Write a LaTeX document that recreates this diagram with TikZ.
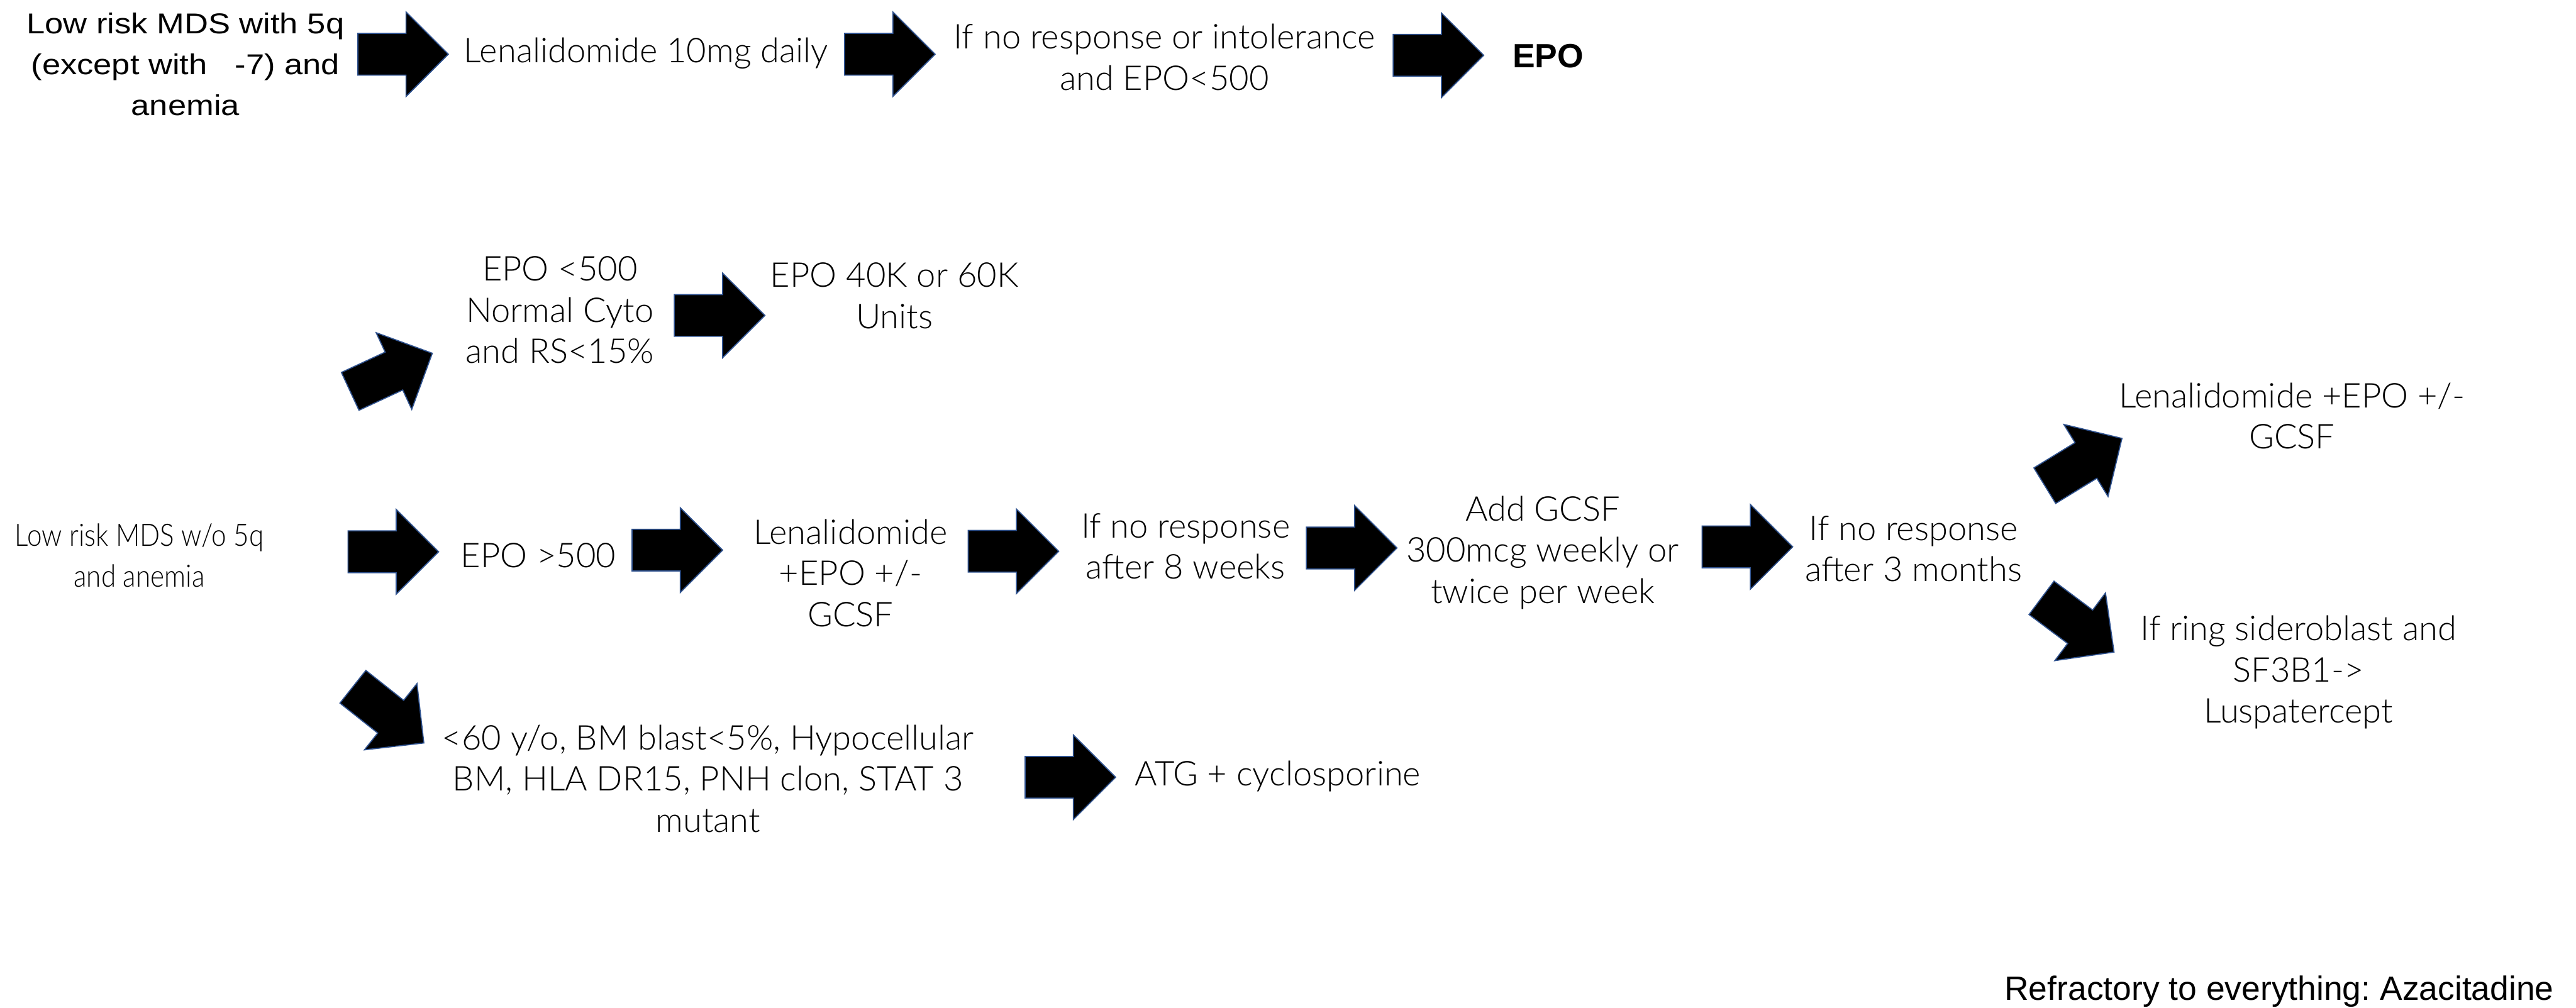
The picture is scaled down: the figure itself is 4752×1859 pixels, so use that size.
\documentclass[tikz,border=0pt]{standalone}
\usepackage{fontspec}
\newfontfamily\lightfam{Lato Light}
\newfontfamily\lightnarrow{Lato Light}[FakeStretch=0.86]
\newfontfamily\arialfam{Liberation Sans}
\newfontfamily\arialwide{Liberation Sans}[FakeStretch=1.15]
\newcommand\lightfs{\lightfam\fontsize{12.6pt}{15.2pt}\selectfont}
\newcommand\lightsmallfs{\lightnarrow\fontsize{11.4pt}{15.2pt}\selectfont}
\newcommand\widefs{\arialwide\fontsize{10.6pt}{15.1pt}\selectfont}
\newcommand\arialfs{\arialfam\fontsize{12.4pt}{15.2pt}\selectfont}
\definecolor{arrowedge}{HTML}{2F528F}
\frenchspacing
\tikzset{
  txt/.style={font=\lightfs, align=center, inner sep=0pt, anchor=base},
  arrowbody/.style={fill=black, draw=arrowedge, line width=0.4pt, line join=miter},
  barrow/.pic={\filldraw[arrowbody] (0,-38.5) -- (89,-38.5) -- (89,-78) -- (167,0) -- (89,78) -- (89,38.5) -- (0,38.5) -- cycle;}
}
\begin{document}
\begin{tikzpicture}[x=0.2pt, y=-0.2pt]
\fill[white] (0,0) rectangle (4752,1859);
\useasboundingbox (0,0) rectangle (4752,1859);

% top row (y = baseline of last line)
\node[txt, font=\widefs] (t1) at (342,213) {Low risk MDS with 5q\\(except with\ \ \ -7) and\\anemia};
\node[txt] (t2) at (1192,115) {Lenalidomide 10mg daily};
\node[txt] (t3) at (2148,166) {If no response or intolerance\\and EPO<500};
\node[txt, font=\arialfs\bfseries] (t4) at (2856,125) {EPO};

% middle branch
\node[txt] (t5) at (1033,670) {EPO <500\\Normal Cyto\\and RS<15\%};
\node[txt] (t6) at (1650,606) {EPO 40K or 60K\\Units};

% main row
\node[txt, font=\lightsmallfs] (t7) at (257,1083) {Low risk MDS w/o 5q\\and anemia};
\node[txt] (t8) at (993,1047) {EPO >500};
\node[txt] (t9) at (1569,1156) {Lenalidomide\\+EPO +/-\\GCSF};
\node[txt] (t10) at (2187,1068) {If no response\\after 8 weeks};
\node[txt] (t11) at (2846,1113) {Add GCSF\\300mcg weekly or\\twice per week};
\node[txt] (t12) at (3530,1073) {If no response\\after 3 months};
\node[txt] (t13) at (4228,828) {Lenalidomide +EPO +/-\\GCSF};
\node[txt] (t14) at (4240,1334) {If ring sideroblast and\\SF3B1->\\Luspatercept};

% lower branch
\node[txt] (t15) at (1306,1535) {<60 y/o, BM blast<5\%, Hypocellular\\BM, HLA DR15, PNH clon, STAT 3\\mutant};
\node[txt] (t16) at (2357,1450) {ATG + cyclosporine};

\node[font=\arialfs, inner sep=0pt, anchor=base east] (t17) at (4712,1845) {Refractory to everything: Azacitadine};

% arrow tails
\coordinate (a1) at (660,100);
\coordinate (a2) at (1558,100);
\coordinate (a3) at (2570,102);
\coordinate (a4) at (1244,582);
\coordinate (a5) at (642,1018);
\coordinate (a6) at (1166,1015);
\coordinate (a7) at (1786,1017);
\coordinate (a8) at (2410,1011);
\coordinate (a9) at (3140,1009);
\coordinate (a10) at (1891,1434);
\coordinate (a11) at (646,722);
\coordinate (a12) at (3772,896);
\coordinate (a13) at (3766,1103);
\coordinate (a14) at (651,1267);

\pic at (a1) {barrow};
\pic at (a2) {barrow};
\pic at (a3) {barrow};
\pic at (a4) {barrow};
\pic at (a5) {barrow};
\pic at (a6) {barrow};
\pic at (a7) {barrow};
\pic at (a8) {barrow};
\pic at (a9) {barrow};
\pic at (a10) {barrow};
\pic[rotate=24.9] at (a11) {barrow};
\pic[rotate=31.5] at (a12) {barrow};
\pic[rotate=-36.8] at (a13) {barrow};
\pic[rotate=-38.4] at (a14) {barrow};
\end{tikzpicture}
\end{document}
